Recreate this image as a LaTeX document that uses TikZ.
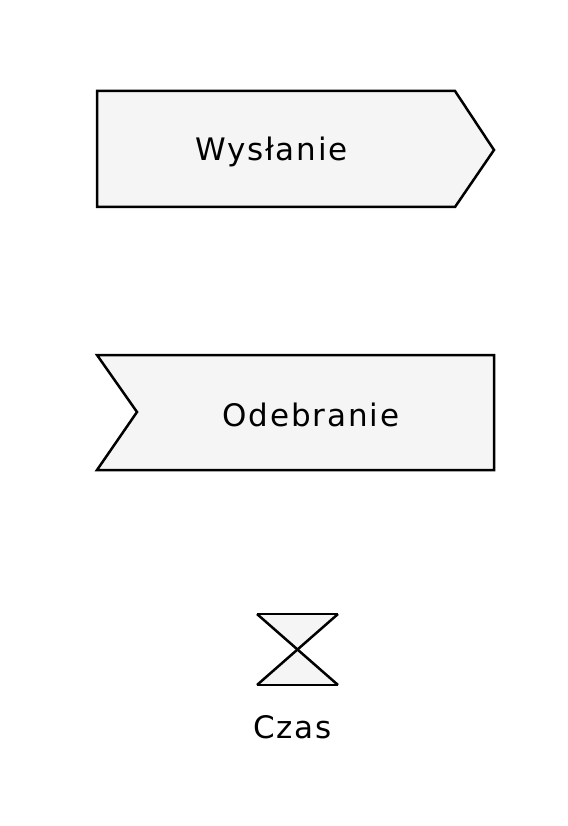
\documentclass[tikz,border=0pt]{standalone}
\usepackage{fontspec}
\setmainfont{DejaVu Sans}[LetterSpace=6]
\definecolor{shapefill}{HTML}{F5F5F5}
\begin{document}
\begin{tikzpicture}[x=1pt,y=-1pt,
  sig/.style={draw=black,fill=shapefill,line width=2.5pt,line join=miter},
  edge/.style={line width=2.5pt},
  lbl/.style={font=\fontsize{31}{36}\selectfont,inner sep=0pt,anchor=base}]
\useasboundingbox[fill=white] (0,0) rectangle (567,826);
% Send signal
\draw[sig] (97,91) -- (455,91) -- (494,150) -- (455,207) -- (97,207) -- cycle;
\node[lbl] (send) at (271.5,161) {Wysłanie};
% Receive signal
\draw[sig] (97,355) -- (494,355) -- (494,470) -- (97,470) -- (137,412) -- cycle;
\node[lbl] (recv) at (311,426) {Odebranie};
% Hourglass
\fill[shapefill] (257,614) -- (338,614) -- (297.5,649.5) -- cycle;
\fill[shapefill] (257,685) -- (338,685) -- (297.5,649.5) -- cycle;
\draw[edge] (257,614) -- (338,614);
\draw[edge] (257,685) -- (338,685);
\draw[edge] (257,614) -- (338,685);
\draw[edge] (338,614) -- (257,685);
\node[lbl] (czas) at (292.5,738) {Czas};
\end{tikzpicture}
\end{document}
